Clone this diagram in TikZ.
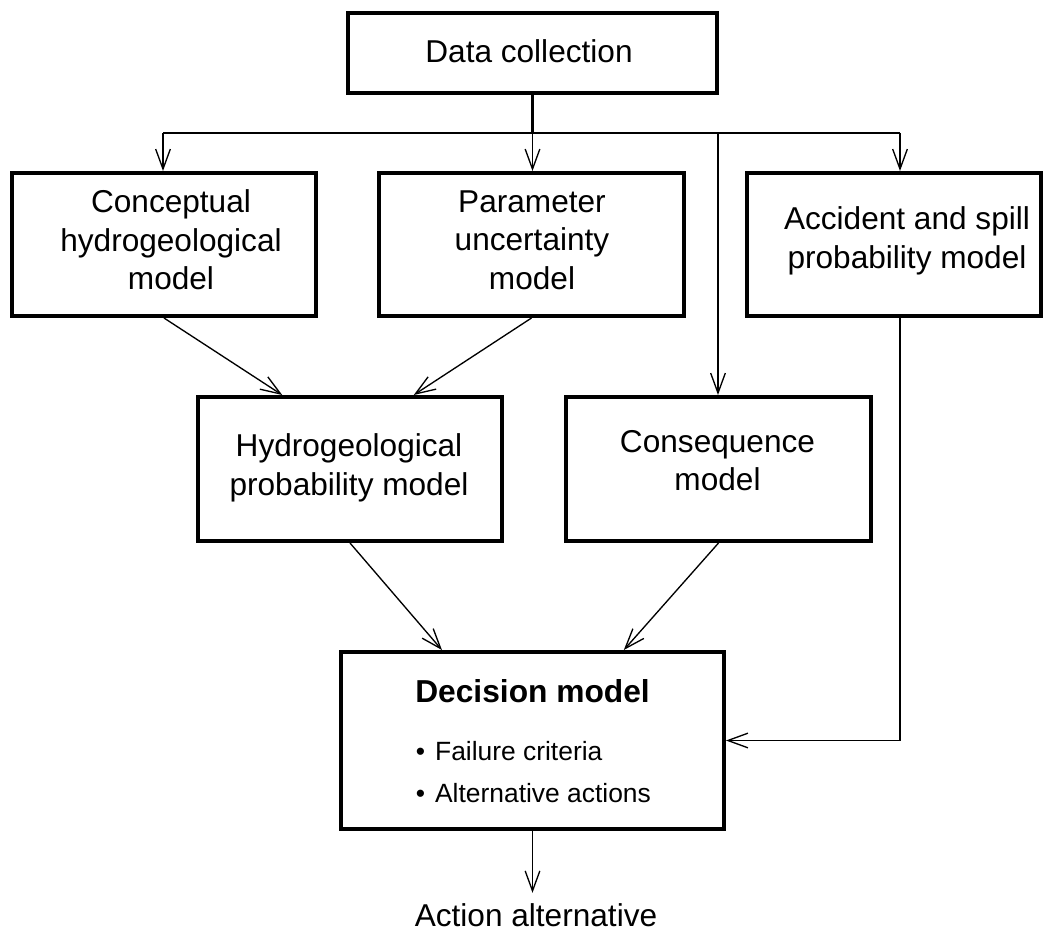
\documentclass[tikz,border=0pt]{standalone}
\usepackage{fontspec}
\setmainfont{Liberation Sans}
\usetikzlibrary{arrows.meta,calc}
\begin{document}
\begin{tikzpicture}[x=0.75pt,y=-0.75pt,
  box/.style={draw,line width=3pt,minimum width=#1,inner sep=0pt},
  txt/.style={align=center,inner sep=0pt,font=\fontsize{23.7}{28.9}\selectfont},
  bul/.style={inner sep=0pt,font=\fontsize{19.8}{24}\selectfont},
  link/.style={line width=1pt,-{Straight Barb[length=15pt,width=11pt]}},
  trunk/.style={line width=2.4pt},
  branch/.style={line width=1.5pt}]
\useasboundingbox (0,0) rectangle (1043,931);

% boxes
\node[box=276.75pt,minimum height=60pt] (data) at (532.5,53) {};
\node[box=228pt,minimum height=107.25pt] (concept) at (164,244.5) {};
\node[box=228.75pt,minimum height=107.25pt] (param) at (531.5,244.5) {};
\node[box=220.5pt,minimum height=107.25pt] (accident) at (894,244.5) {};
\node[box=228pt,minimum height=108pt] (hydro) at (350,469) {};
\node[box=228.75pt,minimum height=108pt] (conseq) at (718.5,469) {};
\node[box=287.25pt,minimum height=132.75pt] (decision) at (532.5,740.5) {};

% texts
\node[txt] (datat) at (529,51.5) {Data collection};
\node[txt] (conceptt) at (171,240) {Conceptual\\hydrogeological\\model};
\node[txt] (paramt) at (532,240) {Parameter\\uncertainty\\model};
\node[txt] (accidentt) at (907,241) {Accident and spill\\probability model};
\node[txt] (hydrot) at (349,468) {Hydrogeological\\probability model};
\node[txt] (conseqt) at (717.5,460.5) {Consequence\\model};
\node[txt,anchor=base west,font=\fontsize{23.8}{28.5}\selectfont\bfseries] (dtitle) at (415,702) {Decision model};
\node[bul,anchor=base west] (b1) at (415.5,760) {\textbullet\hspace{7.6pt}Failure criteria};
\node[bul,anchor=base west] (b2) at (415.5,802) {\textbullet\hspace{7.6pt}Alternative actions};
\node[txt,anchor=base,inner xsep=0pt,inner ysep=7.5pt] (action) at (536,926) {Action alternative};

% branch from data collection
\coordinate (bL) at (163,133);
\coordinate (bC) at (718,133);
\coordinate (bR) at (900,133);
\coordinate (bM) at (data.south |- bL);
\draw[trunk] (data.south) -- (bM);
\draw[branch] (bL) -- (bR);
\draw[link] (bL) -- (bL |- concept.north);
\draw[link] (bM) -- (bM |- param.north);
\draw[link] (bC) -- (bC |- conseq.north);
\draw[link] (bR) -- (bR |- accident.north);

% diagonals
\draw[link] (concept.south) -- ($(hydro.north west)!0.28!(hydro.north east)$);
\draw[link] (param.south) -- ($(hydro.north west)!0.707!(hydro.north east)$);
\draw[link] (hydro.south) -- ($(decision.north west)!0.266!(decision.north east)$);
\draw[link] (conseq.south) -- ($(decision.north west)!0.736!(decision.north east)$);

% accident to decision
\draw[link] (bR |- accident.south) |- (decision.east);

% output
\draw[link] (decision.south) -- (decision.south |- action.north);
\end{tikzpicture}
\end{document}
